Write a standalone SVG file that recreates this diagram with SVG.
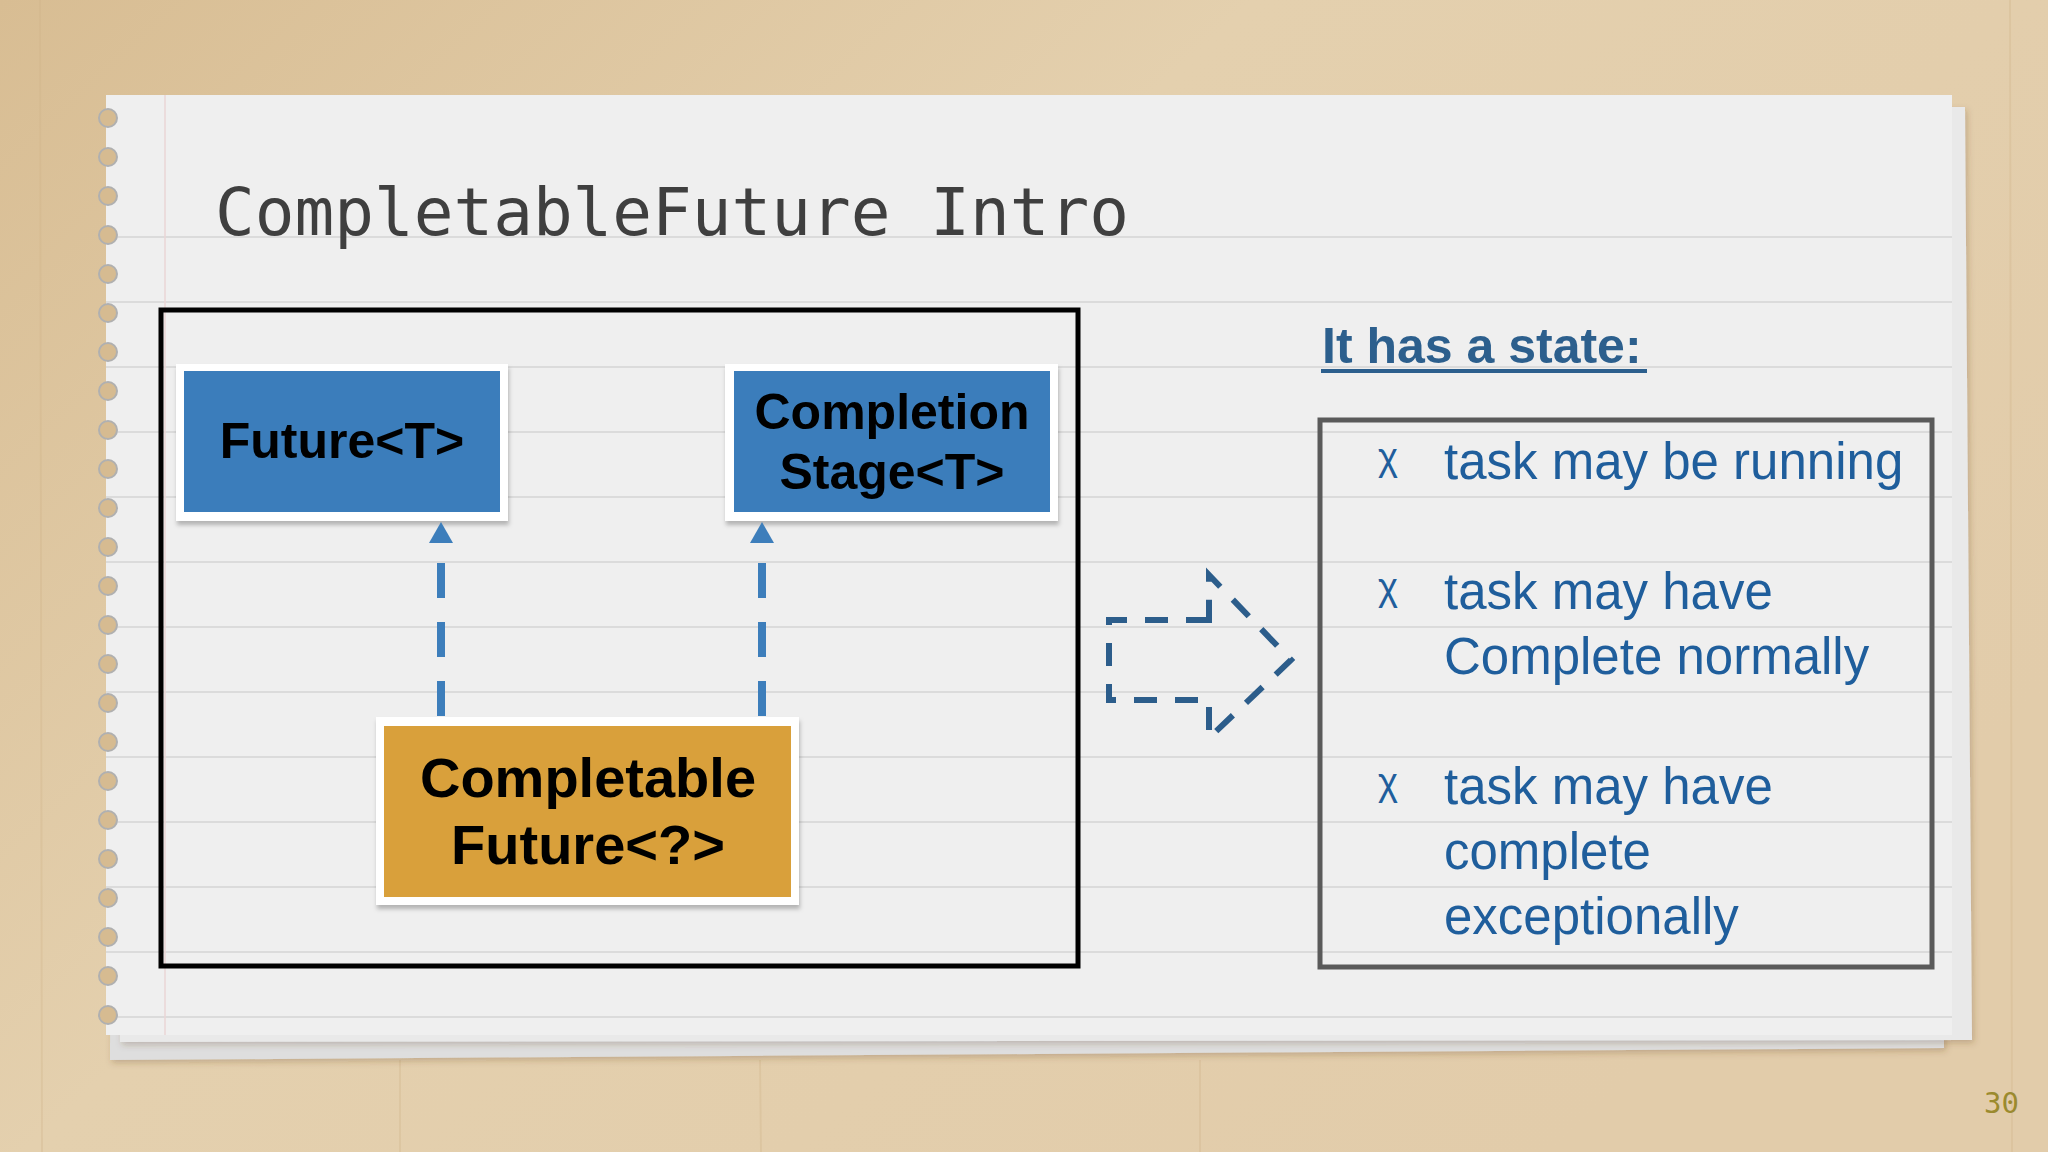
<svg xmlns="http://www.w3.org/2000/svg" width="2048" height="1152" viewBox="0 0 2048 1152">
  <defs>
    <linearGradient id="wood" x1="0" y1="0" x2="1" y2="0.6">
      <stop offset="0" stop-color="#d8bd93"/>
      <stop offset="0.45" stop-color="#e4d0ae"/>
      <stop offset="1" stop-color="#e2ccaa"/>
    </linearGradient>
    <filter id="shadow" x="-10%" y="-10%" width="120%" height="130%">
      <feDropShadow dx="1" dy="4" stdDeviation="2" flood-color="#000" flood-opacity="0.25"/>
    </filter>
    <filter id="papershadow" x="-5%" y="-5%" width="110%" height="110%">
      <feDropShadow dx="2" dy="3" stdDeviation="3" flood-color="#5a4020" flood-opacity="0.25"/>
    </filter>
    <marker id="tri" markerUnits="userSpaceOnUse" markerWidth="24" markerHeight="26" refX="0" refY="12" orient="auto">
      <path d="M0,0 L21,12 L0,24 Z" fill="#3d7ebb"/>
    </marker>
  </defs>
  <style>
    .rule { stroke: #d4d4d4; stroke-width: 1.5; }
    .node-outer { fill: #ffffff; filter: url(#shadow); }
    .blue { fill: #3b7dbb; }
    .orange { fill: #d9a03b; }
    .nodetext { font-family: "Liberation Sans", Arial, sans-serif; font-weight: bold; fill: #000; text-anchor: middle; }
    .conn { stroke: #3d7ebb; stroke-width: 8; fill: none; stroke-dasharray: 35 24; }
    .item { font-family: "Liberation Sans", Arial, sans-serif; font-size: 51px; fill: #1f5e9c; }
    .chi { font-family: "Liberation Sans", Arial, sans-serif; font-size: 38px; fill: #1f5e9c; }
    .hole { fill: #d6bb91; stroke: #b0b0b0; stroke-width: 2; }
  </style>

  <!-- background -->
  <rect x="0" y="0" width="2048" height="1152" fill="url(#wood)"/>
  <g stroke="#cfb287" stroke-width="2" opacity="0.3">
    <line x1="40" y1="0" x2="42" y2="1152"/>
    <line x1="400" y1="1060" x2="400" y2="1152"/>
    <line x1="760" y1="1060" x2="761" y2="1152"/>
    <line x1="1200" y1="1060" x2="1200" y2="1152"/>
    <line x1="2010" y1="0" x2="2012" y2="1152"/>
  </g>

  <!-- paper stack -->
  <g id="paper">
    <polygon points="112,112 1944,108 1944,1048 110,1060" fill="#dedede" filter="url(#papershadow)"/>
    <polygon points="120,104 1965,107 1972,1040 120,1042" fill="#e9e9e9" filter="url(#papershadow)"/>
    <rect x="106" y="95" width="1846" height="940" fill="#efefef"/>
    <g>
      <line class="rule" x1="106" y1="237" x2="1952" y2="237"/>
      <line class="rule" x1="106" y1="302" x2="1952" y2="302"/>
      <line class="rule" x1="106" y1="367" x2="1952" y2="367"/>
      <line class="rule" x1="106" y1="432" x2="1952" y2="432"/>
      <line class="rule" x1="106" y1="497" x2="1952" y2="497"/>
      <line class="rule" x1="106" y1="562" x2="1952" y2="562"/>
      <line class="rule" x1="106" y1="627" x2="1952" y2="627"/>
      <line class="rule" x1="106" y1="692" x2="1952" y2="692"/>
      <line class="rule" x1="106" y1="757" x2="1952" y2="757"/>
      <line class="rule" x1="106" y1="822" x2="1952" y2="822"/>
      <line class="rule" x1="106" y1="887" x2="1952" y2="887"/>
      <line class="rule" x1="106" y1="952" x2="1952" y2="952"/>
      <line class="rule" x1="106" y1="1017" x2="1952" y2="1017"/>
    </g>
    <line x1="165" y1="95" x2="165" y2="1035" stroke="#ead6d6" stroke-width="1.5"/>
    <g>
      <circle class="hole" cx="108" cy="118" r="9"/>
      <circle class="hole" cx="108" cy="157" r="9"/>
      <circle class="hole" cx="108" cy="196" r="9"/>
      <circle class="hole" cx="108" cy="235" r="9"/>
      <circle class="hole" cx="108" cy="274" r="9"/>
      <circle class="hole" cx="108" cy="313" r="9"/>
      <circle class="hole" cx="108" cy="352" r="9"/>
      <circle class="hole" cx="108" cy="391" r="9"/>
      <circle class="hole" cx="108" cy="430" r="9"/>
      <circle class="hole" cx="108" cy="469" r="9"/>
      <circle class="hole" cx="108" cy="508" r="9"/>
      <circle class="hole" cx="108" cy="547" r="9"/>
      <circle class="hole" cx="108" cy="586" r="9"/>
      <circle class="hole" cx="108" cy="625" r="9"/>
      <circle class="hole" cx="108" cy="664" r="9"/>
      <circle class="hole" cx="108" cy="703" r="9"/>
      <circle class="hole" cx="108" cy="742" r="9"/>
      <circle class="hole" cx="108" cy="781" r="9"/>
      <circle class="hole" cx="108" cy="820" r="9"/>
      <circle class="hole" cx="108" cy="859" r="9"/>
      <circle class="hole" cx="108" cy="898" r="9"/>
      <circle class="hole" cx="108" cy="937" r="9"/>
      <circle class="hole" cx="108" cy="976" r="9"/>
      <circle class="hole" cx="108" cy="1015" r="9"/>
    </g>
  </g>

  <!-- title -->
  <text x="215" y="235" font-family="'DejaVu Sans Mono', 'Liberation Mono', monospace" font-size="66" fill="#3f3f3f">CompletableFuture Intro</text>

  <!-- black container -->
  <rect x="161" y="310" width="917" height="656" fill="none" stroke="#000" stroke-width="5"/>

  <!-- nodes -->
  <g id="node-future">
    <rect class="node-outer" x="176" y="364" width="332" height="157"/>
    <rect class="blue" x="184" y="371" width="316" height="141"/>
    <text class="nodetext" x="342" y="458" font-size="50">Future&lt;T&gt;</text>
  </g>
  <g id="node-completion-stage">
    <rect class="node-outer" x="725" y="364" width="333" height="157"/>
    <rect class="blue" x="734" y="371" width="316" height="141"/>
    <text class="nodetext" x="892" y="429" font-size="50">Completion</text>
    <text class="nodetext" x="892" y="489" font-size="50">Stage&lt;T&gt;</text>
  </g>
  <g id="node-completable-future">
    <rect class="node-outer" x="376" y="717" width="423" height="188"/>
    <rect class="orange" x="384" y="726" width="407" height="171"/>
    <text class="nodetext" x="588" y="797" font-size="56">Completable</text>
    <text class="nodetext" x="588" y="864" font-size="56">Future&lt;?&gt;</text>
  </g>

  <!-- connectors -->
  <g id="connectors">
    <path class="conn" d="M441,716 V543" marker-end="url(#tri)"/>
    <path class="conn" d="M762,716 V543" marker-end="url(#tri)"/>
  </g>

  <!-- block arrow (dashed outline) -->
  <g id="block-arrow">
    <path d="M1209,620 L1109,620 L1109,700 L1209,700 L1209,738 L1291,660 L1209,575 Z" fill="none" stroke="#2c5d8b" stroke-width="6" stroke-dasharray="23 18"/>
  </g>

  <!-- state panel -->
  <g id="state-header">
    <text x="1322" y="363" font-family="'Liberation Sans', Arial, sans-serif" font-weight="bold" font-size="50" fill="#2c5f8d">It has a state:</text>
    <rect x="1321" y="369" width="326" height="4" fill="#2c5f8d"/>
  </g>
  <g id="state-box">
    <rect x="1320" y="420" width="612" height="547" fill="none" stroke="#5a5a5a" stroke-width="5"/>
    <text class="chi" x="1378" y="470">χ</text>
    <text class="item" x="1444" y="479">task may be running</text>
    <text class="chi" x="1378" y="600">χ</text>
    <text class="item" x="1444" y="609">task may have</text>
    <text class="item" x="1444" y="674">Complete normally</text>
    <text class="chi" x="1378" y="795">χ</text>
    <text class="item" x="1444" y="804">task may have</text>
    <text class="item" x="1444" y="869">complete</text>
    <text class="item" x="1444" y="934">exceptionally</text>
  </g>

  <!-- page number -->
  <text x="1984" y="1113" font-family="'DejaVu Sans Mono', 'Liberation Mono', monospace" font-size="29" fill="#9b8a2e">30</text>
</svg>
